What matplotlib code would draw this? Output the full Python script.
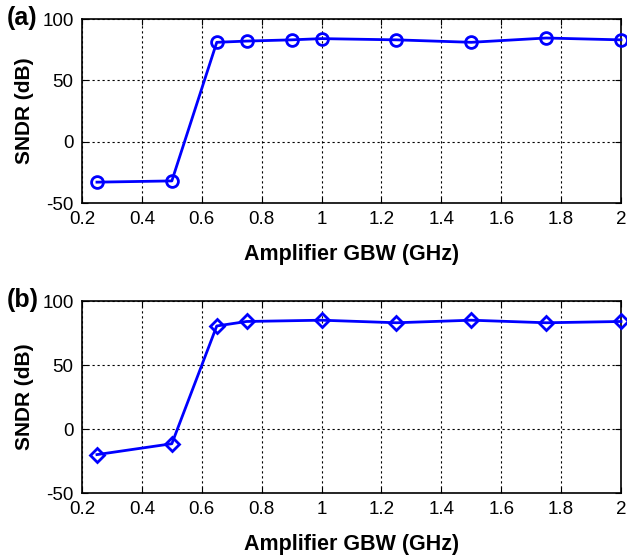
import numpy as np
import matplotlib.pyplot as plt

plt.rcParams['font.family'] = ['Liberation Sans', 'DejaVu Sans']
plt.rcParams['axes.unicode_minus'] = False

# amplifier GBW (GHz) and SNDR (dB)
gbw_a = [0.25, 0.5, 0.65, 0.75, 0.9, 1.0, 1.25, 1.5, 1.75, 2.0]
sndr_a = [-33, -32, 81, 82, 83, 84, 83, 81, 84.5, 83]

gbw_b = [0.25, 0.5, 0.65, 0.75, 1.0, 1.25, 1.5, 1.75, 2.0]
sndr_b = [-20, -11.5, 80.5, 84, 85, 83, 85, 83, 84]

xticks = [0.2, 0.4, 0.6, 0.8, 1, 1.2, 1.4, 1.6, 1.8, 2]
xticklabels = ['0.2', '0.4', '0.6', '0.8', '1', '1.2', '1.4', '1.6', '1.8', '2']
yticks = [-50, 0, 50, 100]

fig = plt.figure(figsize=(6.27, 5.56), dpi=100)
W, H = 627, 556

# axes boxes in pixels: left, top, right, bottom
boxes = [(82, 19, 621, 203), (82, 301, 621, 493)]
panels = [('(a)', gbw_a, sndr_a, 'o'), ('(b)', gbw_b, sndr_b, 'D')]

for (l, t, r, b), (tag, x, y, mk) in zip(boxes, panels):
    ax = fig.add_axes([l / W, 1 - b / H, (r - l) / W, (b - t) / H])
    ms = 8.5 if mk == 'o' else 7.5
    ax.plot(x, y, color='#0000ff', lw=2, marker=mk, ms=ms, mfc='none',
            mec='#0000ff', mew=2, clip_on=False, zorder=3)
    ax.set_xlim(0.2, 2)
    ax.set_ylim(-50, 100)
    ax.set_xticks(xticks)
    ax.set_xticklabels(xticklabels)
    ax.set_yticks(yticks)
    ax.grid(True, color='black', linestyle=(0, (2, 2.5)), linewidth=0.8)
    ax.tick_params(direction='in', top=True, right=True, labelsize=13.5,
                   length=4, width=0.8, pad=6)
    for s in ax.spines.values():
        s.set_linewidth(1.2)
    ax.set_xlabel('Amplifier GBW (GHz)', fontsize=15.5, fontweight='bold',
                  labelpad=11)
    ax.set_ylabel('SNDR (dB)', fontsize=15, fontweight='bold', labelpad=6)
    fig.text(7 / W, 1 - (t - 1) / H, tag, fontsize=18, fontweight='bold',
             ha='left', va='center')

fig.savefig('out.png', dpi=100)
